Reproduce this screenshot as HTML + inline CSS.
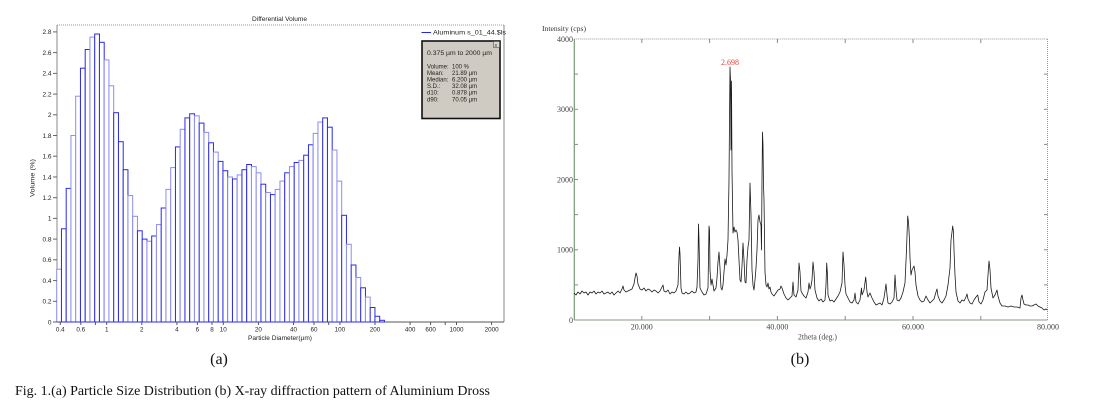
<!DOCTYPE html>
<html>
<head>
<meta charset="utf-8">
<style>
html,body{margin:0;padding:0;background:#fff;}
svg{display:block;}
.sans{font-family:"Liberation Sans",Arial,sans-serif;}
.serif{font-family:"Liberation Serif","Times New Roman",serif;}
</style>
</head>
<body>
<svg width="1101" height="414" viewBox="0 0 1101 414" xmlns="http://www.w3.org/2000/svg">
<rect x="0" y="0" width="1101" height="414" fill="#fff"/>

<!-- ================= LEFT CHART (a) ================= -->
<text class="sans" x="252" y="21" font-size="6" fill="#222" textLength="55" lengthAdjust="spacingAndGlyphs">Differential Volume</text>

<!-- frame -->
<line x1="57" y1="25" x2="504" y2="25" stroke="#999" stroke-width="1" stroke-dasharray="1,1"/>
<line x1="504" y1="25" x2="504" y2="322" stroke="#888" stroke-width="1"/>
<line x1="57" y1="25" x2="57" y2="322" stroke="#888" stroke-width="1"/>

<!-- bars -->
<g fill="#fff" stroke-width="1">
<rect x="56.7" y="269.2" width="4.75" height="52.8" stroke="#8c8cf2"/>
<rect x="61.45" y="228.8" width="4.75" height="93.2" stroke="#2a2ae6"/>
<rect x="66.2" y="188.4" width="4.75" height="133.6" stroke="#2a2ae6"/>
<rect x="70.95" y="135.5" width="4.75" height="186.5" stroke="#8c8cf2"/>
<rect x="75.7" y="96.2" width="4.75" height="225.8" stroke="#8c8cf2"/>
<rect x="80.45" y="68.2" width="4.75" height="253.8" stroke="#2a2ae6"/>
<rect x="85.2" y="49.5" width="4.75" height="272.5" stroke="#2a2ae6"/>
<rect x="89.95" y="37.1" width="4.75" height="284.9" stroke="#8c8cf2"/>
<rect x="94.7" y="34.0" width="4.75" height="288.0" stroke="#2a2ae6"/>
<rect x="99.45" y="42.3" width="4.75" height="279.7" stroke="#2a2ae6"/>
<rect x="104.2" y="59.9" width="4.75" height="262.1" stroke="#8c8cf2"/>
<rect x="108.95" y="85.8" width="4.75" height="236.2" stroke="#8c8cf2"/>
<rect x="113.7" y="112.7" width="4.75" height="209.3" stroke="#2a2ae6"/>
<rect x="118.45" y="141.7" width="4.75" height="180.3" stroke="#2a2ae6"/>
<rect x="123.2" y="169.7" width="4.75" height="152.3" stroke="#2a2ae6"/>
<rect x="127.95" y="195.6" width="4.75" height="126.4" stroke="#8c8cf2"/>
<rect x="132.7" y="216.3" width="4.75" height="105.7" stroke="#8c8cf2"/>
<rect x="137.45" y="230.8" width="4.75" height="91.2" stroke="#2a2ae6"/>
<rect x="142.2" y="239.1" width="4.75" height="82.9" stroke="#2a2ae6"/>
<rect x="146.95" y="241.2" width="4.75" height="80.8" stroke="#8c8cf2"/>
<rect x="151.7" y="236.0" width="4.75" height="86.0" stroke="#2a2ae6"/>
<rect x="156.45" y="224.6" width="4.75" height="97.4" stroke="#8c8cf2"/>
<rect x="161.2" y="208.0" width="4.75" height="114.0" stroke="#2a2ae6"/>
<rect x="165.95" y="189.4" width="4.75" height="132.6" stroke="#8c8cf2"/>
<rect x="170.7" y="167.6" width="4.75" height="154.4" stroke="#8c8cf2"/>
<rect x="175.45" y="146.9" width="4.75" height="175.1" stroke="#2a2ae6"/>
<rect x="180.2" y="129.3" width="4.75" height="192.7" stroke="#8c8cf2"/>
<rect x="184.95" y="117.9" width="4.75" height="204.1" stroke="#2a2ae6"/>
<rect x="189.7" y="113.8" width="4.75" height="208.2" stroke="#2a2ae6"/>
<rect x="194.45" y="115.8" width="4.75" height="206.2" stroke="#8c8cf2"/>
<rect x="199.2" y="123.1" width="4.75" height="198.9" stroke="#2a2ae6"/>
<rect x="203.95" y="132.4" width="4.75" height="189.6" stroke="#8c8cf2"/>
<rect x="208.7" y="142.8" width="4.75" height="179.2" stroke="#2a2ae6"/>
<rect x="213.45" y="152.1" width="4.75" height="169.9" stroke="#8c8cf2"/>
<rect x="218.2" y="161.4" width="4.75" height="160.6" stroke="#2a2ae6"/>
<rect x="222.95" y="170.7" width="4.75" height="151.3" stroke="#2a2ae6"/>
<rect x="227.7" y="177.0" width="4.75" height="145.0" stroke="#8c8cf2"/>
<rect x="232.45" y="179.0" width="4.75" height="143.0" stroke="#2a2ae6"/>
<rect x="237.2" y="174.9" width="4.75" height="147.1" stroke="#8c8cf2"/>
<rect x="241.95" y="169.7" width="4.75" height="152.3" stroke="#2a2ae6"/>
<rect x="246.7" y="164.5" width="4.75" height="157.5" stroke="#2a2ae6"/>
<rect x="251.45" y="166.6" width="4.75" height="155.4" stroke="#8c8cf2"/>
<rect x="256.2" y="172.8" width="4.75" height="149.2" stroke="#8c8cf2"/>
<rect x="260.95" y="184.2" width="4.75" height="137.8" stroke="#2a2ae6"/>
<rect x="265.7" y="192.5" width="4.75" height="129.5" stroke="#8c8cf2"/>
<rect x="270.45" y="194.6" width="4.75" height="127.4" stroke="#2a2ae6"/>
<rect x="275.2" y="189.4" width="4.75" height="132.6" stroke="#8c8cf2"/>
<rect x="279.95" y="181.1" width="4.75" height="140.9" stroke="#8c8cf2"/>
<rect x="284.7" y="172.8" width="4.75" height="149.2" stroke="#2a2ae6"/>
<rect x="289.45" y="166.6" width="4.75" height="155.4" stroke="#8c8cf2"/>
<rect x="294.2" y="162.5" width="4.75" height="159.5" stroke="#2a2ae6"/>
<rect x="298.95" y="160.4" width="4.75" height="161.6" stroke="#8c8cf2"/>
<rect x="303.7" y="155.2" width="4.75" height="166.8" stroke="#2a2ae6"/>
<rect x="308.45" y="144.8" width="4.75" height="177.2" stroke="#2a2ae6"/>
<rect x="313.2" y="133.4" width="4.75" height="188.6" stroke="#8c8cf2"/>
<rect x="317.95" y="122.1" width="4.75" height="199.9" stroke="#8c8cf2"/>
<rect x="322.7" y="117.9" width="4.75" height="204.1" stroke="#2a2ae6"/>
<rect x="327.45" y="127.2" width="4.75" height="194.8" stroke="#2a2ae6"/>
<rect x="332.2" y="150.0" width="4.75" height="172.0" stroke="#8c8cf2"/>
<rect x="336.95" y="181.1" width="4.75" height="140.9" stroke="#8c8cf2"/>
<rect x="341.7" y="215.3" width="4.75" height="106.7" stroke="#2a2ae6"/>
<rect x="346.45" y="244.3" width="4.75" height="77.7" stroke="#8c8cf2"/>
<rect x="351.2" y="265.0" width="4.75" height="57.0" stroke="#2a2ae6"/>
<rect x="355.95" y="277.5" width="4.75" height="44.5" stroke="#8c8cf2"/>
<rect x="360.7" y="287.8" width="4.75" height="34.2" stroke="#2a2ae6"/>
<rect x="365.45" y="297.1" width="4.75" height="24.9" stroke="#8c8cf2"/>
<rect x="370.2" y="307.5" width="4.75" height="14.5" stroke="#2a2ae6"/>
<rect x="374.95" y="316.3" width="4.75" height="5.7" stroke="#2a2ae6"/>
<rect x="379.7" y="320.3" width="4.75" height="1.7" stroke="#2a2ae6"/>
</g>

<!-- bottom axis -->
<line x1="57" y1="322" x2="504" y2="322" stroke="#555" stroke-width="1"/>
<line x1="57" y1="322" x2="385" y2="322" stroke="#2a2ae6" stroke-width="1"/>

<!-- y ticks -->
<g stroke="#666" stroke-width="1">
<line x1="53" y1="322" x2="57" y2="322"/>
<line x1="53" y1="301.3" x2="57" y2="301.3"/>
<line x1="53" y1="280.6" x2="57" y2="280.6"/>
<line x1="53" y1="259.8" x2="57" y2="259.8"/>
<line x1="53" y1="239.1" x2="57" y2="239.1"/>
<line x1="53" y1="218.4" x2="57" y2="218.4"/>
<line x1="53" y1="197.7" x2="57" y2="197.7"/>
<line x1="53" y1="177" x2="57" y2="177"/>
<line x1="53" y1="156.2" x2="57" y2="156.2"/>
<line x1="53" y1="135.5" x2="57" y2="135.5"/>
<line x1="53" y1="114.8" x2="57" y2="114.8"/>
<line x1="53" y1="94.1" x2="57" y2="94.1"/>
<line x1="53" y1="73.4" x2="57" y2="73.4"/>
<line x1="53" y1="52.6" x2="57" y2="52.6"/>
<line x1="53" y1="31.9" x2="57" y2="31.9"/>
</g>
<g class="sans" font-size="6.5" fill="#222" text-anchor="end">
<text x="51.5" y="324.3">0</text>
<text x="51.5" y="303.6">0.2</text>
<text x="51.5" y="282.9">0.4</text>
<text x="51.5" y="262.1">0.6</text>
<text x="51.5" y="241.4">0.8</text>
<text x="51.5" y="220.7">1</text>
<text x="51.5" y="200">1.2</text>
<text x="51.5" y="179.3">1.4</text>
<text x="51.5" y="158.5">1.6</text>
<text x="51.5" y="137.8">1.8</text>
<text x="51.5" y="117.1">2</text>
<text x="51.5" y="96.4">2.2</text>
<text x="51.5" y="75.7">2.4</text>
<text x="51.5" y="54.9">2.6</text>
<text x="51.5" y="34.2">2.8</text>
</g>
<text class="sans" font-size="6.5" fill="#222" transform="translate(34.5,178) rotate(-90)" text-anchor="middle" textLength="38" lengthAdjust="spacingAndGlyphs">Volume (%)</text>

<!-- x ticks -->
<g stroke="#555" stroke-width="1">
<line x1="60.3" y1="322" x2="60.3" y2="325"/>
<line x1="80.8" y1="322" x2="80.8" y2="325"/>
<line x1="95.4" y1="322" x2="95.4" y2="325"/>
<line x1="106.7" y1="322" x2="106.7" y2="325"/>
<line x1="141.8" y1="322" x2="141.8" y2="325"/>
<line x1="176.9" y1="322" x2="176.9" y2="325"/>
<line x1="197.4" y1="322" x2="197.4" y2="325"/>
<line x1="212" y1="322" x2="212" y2="325"/>
<line x1="223.3" y1="322" x2="223.3" y2="325"/>
<line x1="258.4" y1="322" x2="258.4" y2="325"/>
<line x1="293.5" y1="322" x2="293.5" y2="325"/>
<line x1="314" y1="322" x2="314" y2="325"/>
<line x1="328.7" y1="322" x2="328.7" y2="325"/>
<line x1="339.9" y1="322" x2="339.9" y2="325"/>
<line x1="375" y1="322" x2="375" y2="325"/>
<line x1="410.1" y1="322" x2="410.1" y2="325"/>
<line x1="430.6" y1="322" x2="430.6" y2="325"/>
<line x1="445.2" y1="322" x2="445.2" y2="325"/>
<line x1="456.5" y1="322" x2="456.5" y2="325"/>
<line x1="491.6" y1="322" x2="491.6" y2="325"/>
</g>
<g class="sans" font-size="6.3" fill="#222" text-anchor="middle">
<text x="60.3" y="331.5">0.4</text>
<text x="80.8" y="331.5">0.6</text>
<text x="106.7" y="331.5">1</text>
<text x="141.8" y="331.5">2</text>
<text x="176.9" y="331.5">4</text>
<text x="197.4" y="331.5">6</text>
<text x="212" y="331.5">8</text>
<text x="223.3" y="331.5">10</text>
<text x="258.4" y="331.5">20</text>
<text x="293.5" y="331.5">40</text>
<text x="314" y="331.5">60</text>
<text x="339.9" y="331.5">100</text>
<text x="375" y="331.5">200</text>
<text x="410.1" y="331.5">400</text>
<text x="430.6" y="331.5">600</text>
<text x="456.5" y="331.5">1000</text>
<text x="491.6" y="331.5">2000</text>
</g>
<text class="sans" x="248" y="340" font-size="6.3" fill="#222" textLength="64" lengthAdjust="spacingAndGlyphs">Particle Diameter(µm)</text>

<!-- legend -->
<line x1="421.5" y1="32.5" x2="431" y2="32.5" stroke="#2a2ae6" stroke-width="1"/>
<text class="sans" x="433" y="34.5" font-size="6" fill="#222" textLength="73" lengthAdjust="spacingAndGlyphs">Aluminum s_01_44.$ls</text>

<!-- stats box -->
<rect x="422" y="41" width="78" height="77.5" fill="#cfcbc2" stroke="#111" stroke-width="1.6"/>
<rect x="493.5" y="41.5" width="6" height="6" fill="#dedad2" stroke="#555" stroke-width="0.6"/>
<text class="sans" x="494.5" y="46.8" font-size="5.5" fill="#333">x</text>
<g class="sans" font-size="6" fill="#222">
<text x="427" y="55" textLength="65" lengthAdjust="spacingAndGlyphs">0.375 µm to 2000 µm</text>
<text x="427" y="68.7">Volume:</text><text x="452" y="68.7">100 %</text>
<text x="427" y="75">Mean:</text><text x="452" y="75">21.89 µm</text>
<text x="427" y="81.3">Median:</text><text x="452" y="81.3">6.200 µm</text>
<text x="427" y="88">S.D.:</text><text x="452" y="88">32.08 µm</text>
<text x="427" y="94.3">d10:</text><text x="452" y="94.3">0.878 µm</text>
<text x="427" y="101.5">d90:</text><text x="452" y="101.5">70.05 µm</text>
</g>

<text class="serif" x="219" y="364" font-size="16" fill="#111" text-anchor="middle">(a)</text>

<!-- ================= RIGHT CHART (b) ================= -->
<text class="serif" x="542" y="31" font-size="7.5" fill="#333" textLength="44" lengthAdjust="spacingAndGlyphs">Intensity (cps)</text>

<line x1="574.3" y1="39" x2="1047.5" y2="39" stroke="#999" stroke-width="1" stroke-dasharray="1,1"/>
<line x1="1047.5" y1="39" x2="1047.5" y2="320" stroke="#999" stroke-width="1" stroke-dasharray="1,1"/>
<line x1="574.3" y1="320" x2="1047.5" y2="320" stroke="#8a9a8a" stroke-width="1"/>
<line x1="574.3" y1="39" x2="574.3" y2="320" stroke="#7a9a7a" stroke-width="1.2"/>

<g stroke="#888" stroke-width="1">
<line x1="574.3" y1="74.1" x2="578" y2="74.1"/>
<line x1="574.3" y1="109.3" x2="578" y2="109.3"/>
<line x1="574.3" y1="144.4" x2="578" y2="144.4"/>
<line x1="574.3" y1="179.5" x2="578" y2="179.5"/>
<line x1="574.3" y1="214.6" x2="578" y2="214.6"/>
<line x1="574.3" y1="249.8" x2="578" y2="249.8"/>
<line x1="574.3" y1="284.9" x2="578" y2="284.9"/>
<line x1="1044" y1="74.1" x2="1047.5" y2="74.1"/>
<line x1="1044" y1="109.3" x2="1047.5" y2="109.3"/>
<line x1="1044" y1="144.4" x2="1047.5" y2="144.4"/>
<line x1="1044" y1="179.5" x2="1047.5" y2="179.5"/>
<line x1="1044" y1="214.6" x2="1047.5" y2="214.6"/>
<line x1="1044" y1="249.8" x2="1047.5" y2="249.8"/>
<line x1="1044" y1="284.9" x2="1047.5" y2="284.9"/>
<line x1="641.8" y1="39" x2="641.8" y2="43"/>
<line x1="709.6" y1="39" x2="709.6" y2="43"/>
<line x1="777.4" y1="39" x2="777.4" y2="43"/>
<line x1="845.2" y1="39" x2="845.2" y2="43"/>
<line x1="913" y1="39" x2="913" y2="43"/>
<line x1="980.8" y1="39" x2="980.8" y2="43"/>
<line x1="641.8" y1="316" x2="641.8" y2="320"/>
<line x1="709.6" y1="316" x2="709.6" y2="320"/>
<line x1="777.4" y1="316" x2="777.4" y2="320"/>
<line x1="845.2" y1="316" x2="845.2" y2="320"/>
<line x1="913" y1="316" x2="913" y2="320"/>
<line x1="980.8" y1="316" x2="980.8" y2="320"/>
</g>

<g class="serif" font-size="8" fill="#444" text-anchor="end">
<text x="573" y="41.8">4000</text>
<text x="573" y="112">3000</text>
<text x="573" y="182.3">2000</text>
<text x="573" y="252.6">1000</text>
<text x="573" y="322.8">0</text>
</g>
<g class="serif" font-size="8" fill="#444" text-anchor="middle">
<text x="641.8" y="329.5">20.000</text>
<text x="777.4" y="329.5">40.000</text>
<text x="913" y="329.5">60.000</text>
<text x="1048" y="329.5">80.000</text>
</g>
<text class="serif" x="798" y="339.5" font-size="8" fill="#444" textLength="39" lengthAdjust="spacingAndGlyphs">2theta (deg.)</text>

<text class="serif" x="721" y="65" font-size="8" fill="#e8403a" textLength="18" lengthAdjust="spacingAndGlyphs">2.698</text>

<polyline fill="none" stroke="#1a1a1a" stroke-width="0.8" stroke-linejoin="round" points="574,293 576,295 578,292 580,294 582,291 584,293 586,292 588,295 590,292 592,293 594,291 596,294 598,292 600,293 602,291 604,294 606,293 608,292 610,294 612,292 614,295 616,293 618,291 620,293 622,289 623,286 624,290 626,292 628,291 630,290 632,289 634,284 635,278 636,273 637,276 638,284 640,289 642,290 644,288 646,291 648,289 650,290 652,292 654,290 656,291 658,293 660,291 662,287 663,285 664,291 666,292 668,290 670,294 672,292 674,293 676,291 678,285 679,256 679.5,247 680,254 681,288 682,293 684,294 686,292 688,294 690,293 692,291 694,293 696,292 697,287 698,260 698.5,224 699,240 700,288 702,292 704,295 706,294 708,288 709,226 709.5,230 710,270 711,285 712,279 713,285 714,291 716,288 717,278 718,262 719,252 720,268 721,288 722,290 723,285 724,272 725,259 726,265 727,255 728,240 729,180 729.5,120 730,67 730.5,80 731,150 731.5,81 732,170 733,233 734,227 735,232 736,230 737,232 738,240 739,260 740,280 741,282 742,266 743,243 744,260 745,282 746,283 747,260 748,247 749,240 750,183 751,215 752,270 753,285 754,290 755,280 756,268 757,250 758,220 759,215 760,222 761,225 761.5,250 762,180 762.5,132 763,145 763.5,185 764,200 765,272 766,285 767,287 768,283 769,289 770,287 771,292 772,294 774,296 776,293 778,290 780,289 781,286 782,288 784,294 786,298 788,300 790,298 792,296 793,282 794,295 796,297 798,290 799,263 800,272 801,291 802,293 804,296 806,298 808,292 809,283 810,289 811,286 812,280 813,262 814,272 815,290 817,298 819,301 821,299 823,302 825,300 826,285 826.7,263 827.5,275 828,295 830,301 832,300 834,302 836,299 838,296 840,292 842,283 843,252 844,265 845,285 846,294 848,298 850,302 852,303 854,300 855,293 856,302 858,304 860,300 861.5,288 862,295 864,290 865.7,277 867,292 868,297 870,293 872,298 874,302 876,305 878,304 880,303 882,305 884,298 886,284 887,295 888,303 890,304 892,302 894,298 895,275 896,290 897,300 899,301 901,298 903,292 905,283 906.5,250 907.7,216 908.5,222 909.5,240 910,258 911,275 912,270 914,266 915,272 916,285 918,296 920,300 922,302 924,301 926,296 928,300 930,303 932,301 934,299 936,292 937,289 938,296 940,301 942,303 944,300 946,296 948,285 950,268 951,240 952,232 952.7,226 953.5,232 954,250 955,275 956,292 958,301 960,303 962,300 964,301 966,297 967,294 968,299 970,303 972,304 974,300 976,297 977.7,295 979,302 981,304 983,300 985,292 987,290 988,275 989,261 990,270 991,288 993,298 995,295 997,290 998,296 1000,303 1002,306 1005,306 1008,307 1011,306 1014,307 1017,307 1020,308 1021,298 1022,295 1023,300 1024,304 1026,305 1028,305 1030,306 1032,306 1034,305 1036,304 1038,306 1040,307 1042,308 1044,310 1046,309 1047.5,310"/>

<text class="serif" x="800" y="364" font-size="16" fill="#111" text-anchor="middle">(b)</text>

<!-- caption -->
<text class="serif" x="15" y="395" font-size="14" fill="#111" textLength="475" lengthAdjust="spacingAndGlyphs">Fig. 1.(a) Particle Size Distribution (b) X-ray diffraction pattern of Aluminium Dross</text>
</svg>
</body>
</html>
